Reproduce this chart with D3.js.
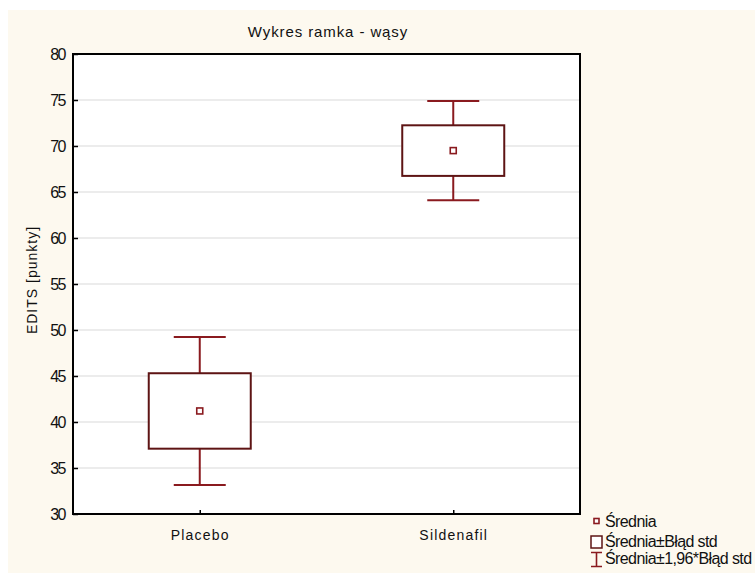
<!DOCTYPE html>
<html>
<head>
<meta charset="utf-8">
<script src="https://cdn.jsdelivr.net/npm/d3@7"></script>
<style>
  html, body { margin: 0; padding: 0; background: #ffffff; }
  svg { display: block; }
  text { font-family: "Liberation Sans", Arial, sans-serif; fill: #111; }
  .narrow { font-family: "Liberation Sans Narrow", "Liberation Sans", Arial, sans-serif; }
</style>
</head>
<body>
<svg id="chart" width="755" height="573"></svg>
<script>
// Group names and summary statistics (mean, standard error)
const categories = ["Placebo", "Sildenafil"];
const means = [41.2, 69.5];
const stdErrors = [4.1, 2.75];
const yTicks = [30, 35, 40, 45, 50, 55, 60, 65, 70, 75, 80];
const legendLabels = ["Średnia", "Średnia±Błąd std", "Średnia±1,96*Błąd std"];

const W = 755, H = 573;
const plot = { left: 73, top: 54, right: 580, bottom: 514 };
const boxColor = "#5e1414";
const whiskerColor = "#8a1a1f";

const svg = d3.select("#chart");

// page background panel
svg.append("rect").attr("x", 8).attr("y", 10).attr("width", W - 8).attr("height", H - 10)
  .attr("fill", "#fdf9ef");

// plot area
svg.append("rect").attr("x", plot.left).attr("y", plot.top)
  .attr("width", plot.right - plot.left).attr("height", plot.bottom - plot.top)
  .attr("fill", "#ffffff");

const y = d3.scaleLinear().domain([30, 80]).range([plot.bottom, plot.top]);
const x = d3.scalePoint().domain(categories).range([plot.left, plot.right]).padding(0.5);

// horizontal gridlines
svg.append("g").selectAll("line").data(yTicks.filter(t => t > 30 && t < 80)).join("line")
  .attr("x1", plot.left).attr("x2", plot.right)
  .attr("y1", d => y(d)).attr("y2", d => y(d))
  .attr("stroke", "#d9d9d9").attr("stroke-width", 1);

// y axis with inward ticks
const yAxis = svg.append("g").attr("transform", `translate(${plot.left},0)`)
  .call(d3.axisLeft(y).tickValues(yTicks).tickSize(-5).tickPadding(8).tickFormat(d3.format("d")));
yAxis.select(".domain").remove();
yAxis.selectAll(".tick line").attr("stroke", "#000").attr("stroke-width", 1.5);
yAxis.selectAll(".tick text").attr("class", "narrow").attr("font-size", 16)
  .attr("letter-spacing", -1.5).attr("fill", "#111");

// x axis with inward ticks
const xAxis = svg.append("g").attr("transform", `translate(0,${plot.bottom})`)
  .call(d3.axisBottom(x).tickSize(-4).tickPadding(16));
xAxis.select(".domain").remove();
xAxis.selectAll(".tick line").attr("stroke", "#000").attr("stroke-width", 1.5);
xAxis.selectAll(".tick text").attr("font-size", 14).attr("letter-spacing", 1.2).attr("fill", "#111");

// plot frame
svg.append("rect").attr("x", plot.left).attr("y", plot.top)
  .attr("width", plot.right - plot.left).attr("height", plot.bottom - plot.top)
  .attr("fill", "none").attr("stroke", "#000").attr("stroke-width", 2);

// box-whisker marks
const boxW = 102, capW = 52, meanSz = 6;
const data = categories.map((c, i) => ({ c, m: means[i], se: stdErrors[i] }));
const g = svg.append("g").selectAll("g").data(data).join("g");

g.append("line").attr("x1", d => x(d.c)).attr("x2", d => x(d.c))
  .attr("y1", d => y(d.m + 1.96 * d.se)).attr("y2", d => y(d.m + d.se))
  .attr("stroke", whiskerColor).attr("stroke-width", 2);
g.append("line").attr("x1", d => x(d.c)).attr("x2", d => x(d.c))
  .attr("y1", d => y(d.m - d.se)).attr("y2", d => y(d.m - 1.96 * d.se))
  .attr("stroke", whiskerColor).attr("stroke-width", 2);
g.append("line").attr("x1", d => x(d.c) - capW / 2).attr("x2", d => x(d.c) + capW / 2)
  .attr("y1", d => y(d.m + 1.96 * d.se)).attr("y2", d => y(d.m + 1.96 * d.se))
  .attr("stroke", whiskerColor).attr("stroke-width", 2);
g.append("line").attr("x1", d => x(d.c) - capW / 2).attr("x2", d => x(d.c) + capW / 2)
  .attr("y1", d => y(d.m - 1.96 * d.se)).attr("y2", d => y(d.m - 1.96 * d.se))
  .attr("stroke", whiskerColor).attr("stroke-width", 2);
g.append("rect").attr("x", d => x(d.c) - boxW / 2).attr("y", d => y(d.m + d.se))
  .attr("width", boxW).attr("height", d => y(d.m - d.se) - y(d.m + d.se))
  .attr("fill", "#fff").attr("stroke", boxColor).attr("stroke-width", 2);
g.append("rect").attr("x", d => x(d.c) - meanSz / 2).attr("y", d => y(d.m) - meanSz / 2)
  .attr("width", meanSz).attr("height", meanSz)
  .attr("fill", "#fff").attr("stroke", whiskerColor).attr("stroke-width", 1.6);

// title
svg.append("text").attr("x", 328).attr("y", 37).attr("text-anchor", "middle")
  .attr("font-size", 15).attr("letter-spacing", 0.9).text("Wykres ramka - wąsy");

// y axis title
svg.append("text").attr("transform", `translate(37,${(plot.top + plot.bottom) / 2 - 4}) rotate(-90)`)
  .attr("text-anchor", "middle").attr("font-size", 14).attr("letter-spacing", 1)
  .text("EDITS [punkty]");

// legend
const lg = svg.append("g");
lg.append("rect").attr("x", 594).attr("y", 518.5).attr("width", 5).attr("height", 5)
  .attr("fill", "#fff").attr("stroke", whiskerColor).attr("stroke-width", 1.6);
lg.append("rect").attr("x", 591).attr("y", 536).attr("width", 11).attr("height", 12)
  .attr("fill", "#fff").attr("stroke", boxColor).attr("stroke-width", 1.5);
lg.append("path").attr("d", "M591,552.5H602M596.5,552.5V566.5M591,566.5H602")
  .attr("fill", "none").attr("stroke", whiskerColor).attr("stroke-width", 1.6);
lg.selectAll("text").data(legendLabels).join("text")
  .attr("class", "narrow")
  .attr("x", 605).attr("y", (d, i) => [527, 547, 564][i])
  .attr("font-size", 16).attr("letter-spacing", -0.6).text(d => d);
</script>
</body>
</html>
